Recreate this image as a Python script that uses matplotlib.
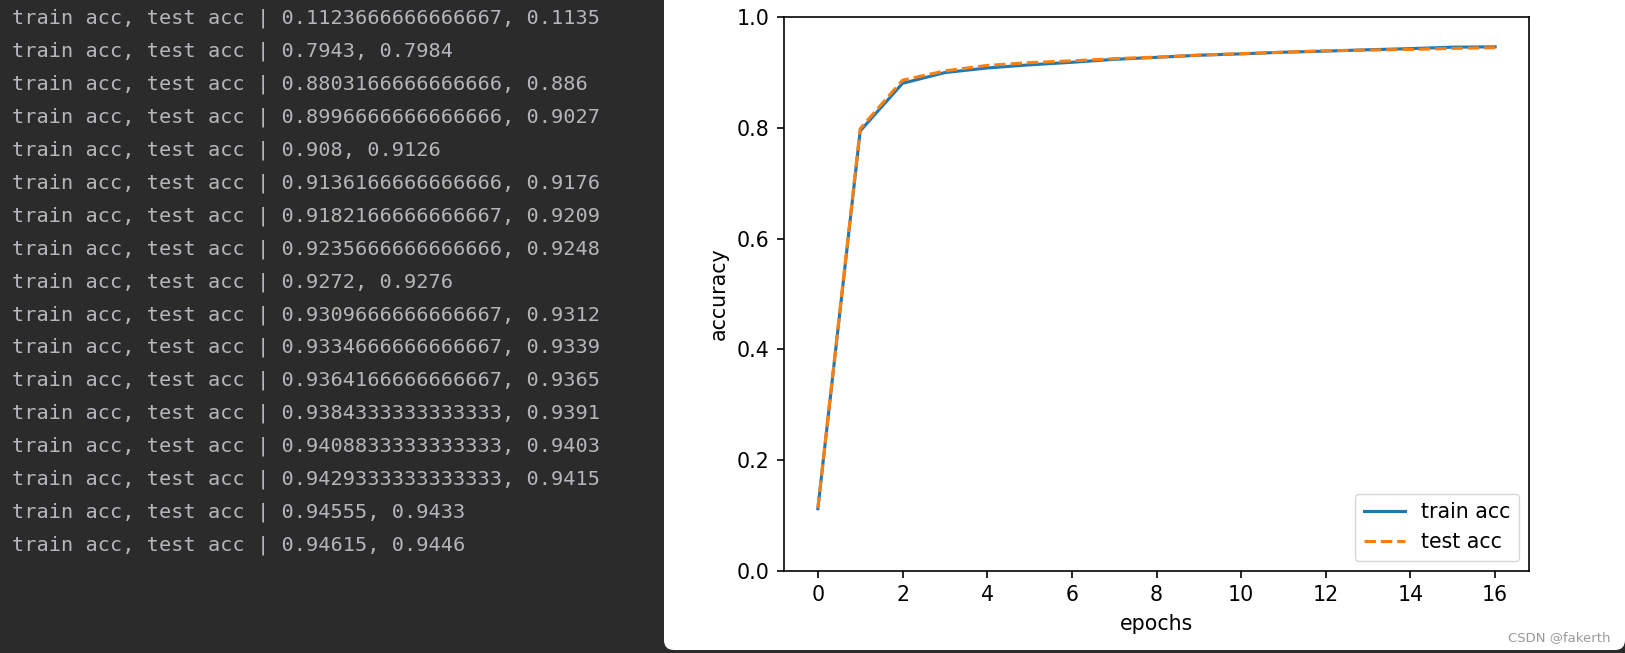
import matplotlib
matplotlib.use("Agg")
import matplotlib.pyplot as plt
from matplotlib.patches import FancyBboxPatch

# accuracy per epoch, as printed in the console
train_acc = [0.1123666666666667, 0.7943, 0.8803166666666666, 0.8996666666666666,
             0.908, 0.9136166666666666, 0.9182166666666667, 0.9235666666666666,
             0.9272, 0.9309666666666667, 0.9334666666666667, 0.9364166666666667,
             0.9384333333333333, 0.9408833333333333, 0.9429333333333333,
             0.94555, 0.94615]
test_acc = [0.1135, 0.7984, 0.886, 0.9027, 0.9126, 0.9176, 0.9209, 0.9248,
            0.9276, 0.9312, 0.9339, 0.9365, 0.9391, 0.9403, 0.9415, 0.9433, 0.9446]
epochs = list(range(len(train_acc)))

W, H = 1625, 653
fig = plt.figure(figsize=(W / 100, H / 100), dpi=100)
fig.patch.set_facecolor("#2b2b2b")

# white panel with the plot (pixel coords)
panel = FancyBboxPatch((664, 3), W - 664, H + 30, boxstyle="round,pad=0,rounding_size=10",
                       transform=None, facecolor="white", edgecolor="none", zorder=-5)
fig.patches.append(panel)

# console output on the left
for i, (tr, te) in enumerate(zip(train_acc, test_acc)):
    y = 1 - (18.7 + i * 32.9) / H
    fig.text(12 / W, y, f"train acc, test acc | {tr}, {te}", color="#b4b6bb",
             family="DejaVu Sans Mono", fontsize=14.6, va="center", ha="left")

s = 1.48
fs = 10 * s
ax = fig.add_axes([784 / W, (H - 571) / H, (1529 - 784) / W, (571 - 17) / H])
ax.plot(epochs, train_acc, label="train acc", linewidth=1.5 * s)
ax.plot(epochs, test_acc, "--", label="test acc", linewidth=1.5 * s)
ax.set_ylim(0, 1)
ax.set_xticks(range(0, 17, 2))
ax.set_xlabel("epochs", fontsize=fs, labelpad=4 * s)
ax.set_ylabel("accuracy", fontsize=fs, labelpad=4 * s)
ax.tick_params(labelsize=fs, length=3.5 * s, width=0.8 * s, pad=3.5 * s)
for sp in ax.spines.values():
    sp.set_linewidth(0.8 * s)
ax.legend(loc="lower right", fontsize=fs)

fig.text(1610 / W, 1 - 638 / H, "CSDN @fakerth", color="#9a9a9a", fontsize=9.5,
         ha="right", va="center")

fig.savefig("out.png", dpi=100, facecolor=fig.get_facecolor())
